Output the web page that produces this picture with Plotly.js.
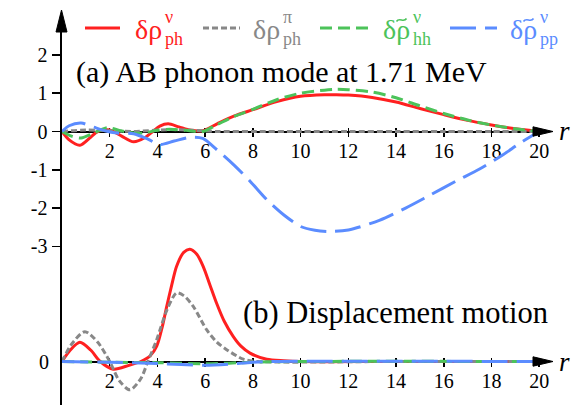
<!DOCTYPE html>
<html>
<head>
<meta charset="utf-8">
<script src="https://cdn.plot.ly/plotly-3.0.1.min.js"></script>
<style>html,body{margin:0;padding:0;background:#fff;}#chart{width:575px;height:405px;}</style>
</head>
<body>
<div id="chart"></div>
<script>
// ---------- data: panel (a) AB phonon mode ----------
const rRedA = [0, 0.3, 0.75, 1.2, 1.5, 2.0, 2.5, 3.0, 3.5, 3.8, 4.1, 4.45, 4.9, 5.4, 5.9, 6.5, 7.2, 8, 9, 10, 11, 11.5, 12, 13, 14, 15, 16, 17, 18, 19, 20];
const redA  = [0, -0.22, -0.36, -0.15, 0, 0.04, -0.12, -0.27, -0.15, 0, 0.14, 0.2, 0.12, 0.03, 0.02, 0.2, 0.4, 0.57, 0.78, 0.92, 0.96, 0.96, 0.95, 0.89, 0.77, 0.6, 0.44, 0.29, 0.17, 0.07, 0];

const rGrayA = [0, 1, 2, 3, 4.5, 5.5, 6.5, 8, 10, 12, 14, 16, 18, 20];
const grayA  = [0, 0.04, 0.02, 0, 0.05, 0.03, 0, 0, 0, 0, 0, 0, 0, 0];

const rGreenA = [0, 0.4, 0.8, 1.3, 1.9, 2.4, 3.0, 3.5, 4.0, 4.5, 5.2, 5.9, 6.5, 7.2, 8, 9, 10, 11, 11.5, 12, 13, 14, 15, 16, 17, 18, 19, 20];
const greenA  = [0, -0.12, -0.17, -0.05, 0.1, 0.03, -0.04, -0.03, 0.03, 0.06, 0.03, 0, 0.18, 0.39, 0.58, 0.83, 1.0, 1.08, 1.1, 1.09, 1.03, 0.88, 0.67, 0.47, 0.3, 0.17, 0.07, 0];

const rBlueA = [0, 0.3, 0.8, 1.3, 1.8, 2.3, 3.0, 3.6, 4.1, 4.7, 5.4, 5.9, 6.5, 7.2, 7.9, 8.6, 9.3, 10, 10.6, 11.2, 12, 13.3, 14.4, 15.4, 16.5, 17.5, 18.5, 19.2, 20];
const blueA  = [0, 0.15, 0.22, 0.12, 0.02, -0.04, -0.06, -0.2, -0.34, -0.25, -0.15, -0.18, -0.48, -0.87, -1.31, -1.79, -2.18, -2.48, -2.58, -2.61, -2.57, -2.32, -2.0, -1.67, -1.3, -0.98, -0.6, -0.3, 0];

// ---------- data: panel (b) displacement motion ----------
const rRedB = [0, 0.35, 0.75, 1.2, 1.6, 2.15, 2.8, 3.3, 3.7, 3.97, 4.2, 4.39, 4.6, 4.8, 5.1, 5.36, 5.65, 5.92, 6.2, 6.48, 6.8, 7.18, 7.5, 7.88, 8.58, 9.3, 10, 14, 20];
const redB  = [0, 0.3, 0.5, 0.3, 0, -0.2, -0.1, 0, 0.15, 0.4, 0.9, 1.44, 2.0, 2.48, 2.85, 2.93, 2.8, 2.48, 2.0, 1.52, 1.05, 0.65, 0.4, 0.22, 0.06, 0.02, 0, 0, 0];

const rGrayB = [0, 0.4, 0.96, 1.5, 2.0, 2.4, 2.85, 3.3, 3.6, 3.97, 4.4, 4.8, 5.1, 5.5, 6.06, 6.5, 6.9, 7.6, 8.2, 14, 20];
const grayB  = [0, 0.45, 0.78, 0.5, 0, -0.5, -0.74, -0.45, 0, 0.57, 1.35, 1.79, 1.72, 1.44, 0.83, 0.5, 0.31, 0.06, 0, 0, 0];

const rGreenB = [0, 2, 4, 6, 8, 10, 20];
const greenB  = [0, -0.02, -0.03, -0.06, -0.02, 0, 0];

const rBlueB = [0, 2, 4, 5, 6, 7, 8, 9, 20];
const blueB  = [0, -0.02, -0.05, -0.08, -0.1, -0.07, -0.02, 0, 0];

const xTicks = [2, 4, 6, 8, 10, 12, 14, 16, 18, 20];
const yTicksA = [-3, -2, -1, 0, 1, 2];
const yTickTextA = ['-3', '-2', '-1', '0', '1', '2'];

// ---------- styles ----------
const RED = '#ff2020', GRAY = '#888888', GREEN = '#4cc35a', BLUE = '#5b8cff';
const FONT = 'Liberation Serif';
const W = 575, H = 405;
const P = x => x / W;          // pixel -> paper x
const Q = y => 1 - y / H;      // pixel -> paper y

const X0 = 62, PXU = 23.86, XMAX = 20.1;
const YA0 = 131.5, YB0 = 361.5, PYU = 38.3, YTOP = 15;
const xdom = [P(X0), P(X0 + XMAX * PXU)];
const ydom = [0, Q(YTOP)];

const styleRed = {color: RED, width: 3};
const styleGray = {color: GRAY, width: 3, dash: '6px,3px'};
const styleGreen = {color: GREEN, width: 3, dash: '12px,6px'};
const styleBlue = {color: BLUE, width: 3, dash: '26px,9px'};

function tr(x, y, line, xa, ya) {
  return {type: 'scatter', mode: 'lines', x: x, y: y, line: Object.assign({shape: 'spline', smoothing: 0.8}, line),
          xaxis: xa, yaxis: ya, showlegend: false, hoverinfo: 'skip'};
}

const data = [
  tr(rRedA, redA, styleRed, 'x', 'y'),
  tr(rGrayA, grayA, styleGray, 'x', 'y'),
  tr(rGreenA, greenA, styleGreen, 'x', 'y'),
  tr(rBlueA, blueA, styleBlue, 'x', 'y'),
  tr(rRedB, redB, styleRed, 'x2', 'y2'),
  tr(rGrayB, grayB, styleGray, 'x2', 'y2'),
  tr(rGreenB, greenB, styleGreen, 'x2', 'y2'),
  tr(rBlueB, blueB, styleBlue, 'x2', 'y2'),
  {type: 'scatter', x: [null], y: [null], xaxis: 'x3', yaxis: 'y', showlegend: false, hoverinfo: 'skip'},
  {type: 'scatter', x: [null], y: [null], xaxis: 'x4', yaxis: 'y2', showlegend: false, hoverinfo: 'skip'}
];

function xax(pos, labels, ticks, overlay) {
  const a = {domain: xdom, range: [0, XMAX], anchor: 'free', position: pos,
    showgrid: false, zeroline: false, tickmode: 'array', tickvals: xTicks, ticktext: xTicks.map(String),
    ticks: ticks, ticklen: 4, tickwidth: 1.5, tickcolor: '#000', ticklabelstandoff: -3,
    showticklabels: labels, tickfont: {family: FONT, size: 20, color: '#000'},
    showline: labels, linecolor: '#000', linewidth: 2.5, layer: 'below traces', fixedrange: true};
  if (overlay) a.overlaying = 'x';
  return a;
}

const legendItems = [
  {x1: 85, x2: 120, line: styleRed, color: RED, base: 'δρ', tilde: false, sup: 'ν', sub: 'ph', tx: 133},
  {x1: 203, x2: 240, line: styleGray, color: GRAY, base: 'δρ', tilde: false, sup: 'π', sub: 'ph', tx: 251},
  {x1: 320, x2: 370, line: styleGreen, color: GREEN, base: 'δρ', tilde: true, sup: 'ν', sub: 'hh', tx: 381},
  {x1: 450, x2: 497, line: styleBlue, color: BLUE, base: 'δρ', tilde: true, sup: 'ν', sub: 'pp', tx: 508}
];

const shapes = [];
const annotations = [];
legendItems.forEach(it => {
  shapes.push({type: 'line', xref: 'paper', yref: 'paper', x0: P(it.x1), x1: P(it.x2), y0: Q(28), y1: Q(28),
               line: {color: it.line.color, width: it.line.width, dash: it.line.dash || 'solid'}});
  annotations.push({xref: 'paper', yref: 'paper', x: P(it.tx), y: Q(29), xanchor: 'left', yanchor: 'middle',
                    text: it.base, showarrow: false, font: {family: FONT, size: 28, color: it.color}});
  annotations.push({xref: 'paper', yref: 'paper', x: P(it.tx + 30), y: Q(17), xanchor: 'left', yanchor: 'middle',
                    text: it.sup, showarrow: false, font: {family: FONT, size: 18, color: it.color}});
  annotations.push({xref: 'paper', yref: 'paper', x: P(it.tx + 29.5), y: Q(39), xanchor: 'left', yanchor: 'middle',
                    text: it.sub, showarrow: false, font: {family: FONT, size: 18, color: it.color}});
  if (it.tilde) {
    const c = it.tx + 20.5, y = 20;
    const pt = (dx, dy) => P(c + dx) + ',' + Q(y + dy);
    shapes.push({type: 'path', xref: 'paper', yref: 'paper', line: {color: it.color, width: 1.6},
      path: 'M' + pt(-5, 1.5) + ' C' + pt(-2.5, -3) + ' ' + pt(2.5, 3) + ' ' + pt(5, -1.5)});
  }
});

// axis arrows
function tri(pts) {
  return {type: 'path', xref: 'paper', yref: 'paper', fillcolor: '#000', line: {color: '#000', width: 1},
          path: 'M' + pts.map(p => P(p[0]) + ',' + Q(p[1])).join(' L') + ' Z'};
}
shapes.push(tri([[61.5, 10], [56, 32], [67, 32]]));
shapes.push(tri([[553, YA0], [533, YA0 - 4.7], [533, YA0 + 4.7]]));
shapes.push(tri([[553, YB0], [533, YB0 - 4.7], [533, YB0 + 4.7]]));

annotations.push({xref: 'paper', yref: 'paper', x: P(557), y: Q(YA0), xanchor: 'left', yanchor: 'middle',
  text: '<i>r</i>', showarrow: false, font: {family: FONT, size: 27, color: '#000'}});
annotations.push({xref: 'paper', yref: 'paper', x: P(557), y: Q(YB0), xanchor: 'left', yanchor: 'middle',
  text: '<i>r</i>', showarrow: false, font: {family: FONT, size: 27, color: '#000'}});
annotations.push({xref: 'paper', yref: 'paper', x: P(74), y: Q(72), xanchor: 'left', yanchor: 'middle',
  text: '(a) AB phonon mode at 1.71 MeV', showarrow: false, font: {family: FONT, size: 30, color: '#000'}});
annotations.push({xref: 'paper', yref: 'paper', x: P(395), y: Q(313), xanchor: 'center', yanchor: 'middle',
  text: '(b) Displacement motion', showarrow: false, font: {family: FONT, size: 30.5, color: '#000'}});

const layout = {
  width: W, height: H, margin: {l: 0, r: 0, t: 0, b: 0, pad: 0},
  font: {family: FONT, color: '#000'},
  paper_bgcolor: '#fff', plot_bgcolor: '#fff', showlegend: false,
  xaxis: xax(Q(YA0), true, 'outside', false),
  xaxis2: xax(Q(YB0), true, 'outside', true),
  xaxis3: xax(Q(YA0), false, 'inside', true),
  xaxis4: xax(Q(YB0), false, 'inside', true),
  yaxis: {domain: ydom, range: [-(H - YA0) / PYU, (YA0 - YTOP) / PYU], anchor: 'x',
    showgrid: false, zeroline: false, tickmode: 'array', tickvals: yTicksA, ticktext: yTickTextA,
    ticks: 'outside', ticklen: 8, tickwidth: 1.5, tickcolor: '#000',
    tickfont: {family: FONT, size: 20, color: '#000'},
    showline: true, linecolor: '#000', linewidth: 2.5, layer: 'below traces', fixedrange: true},
  yaxis2: {domain: ydom, range: [-(H - YB0) / PYU, (YB0 - YTOP) / PYU], anchor: 'x2', overlaying: 'y', side: 'left',
    showgrid: false, zeroline: false, tickmode: 'array', tickvals: [0], ticktext: ['0'],
    ticks: 'outside', ticklen: 8, tickwidth: 1.5, tickcolor: 'rgba(0,0,0,0)',
    tickfont: {family: FONT, size: 20, color: '#000'}, showline: false, fixedrange: true},
  shapes: shapes,
  annotations: annotations
};

Plotly.newPlot('chart', data, layout, {displayModeBar: false, staticPlot: true});
</script>
</body>
</html>
